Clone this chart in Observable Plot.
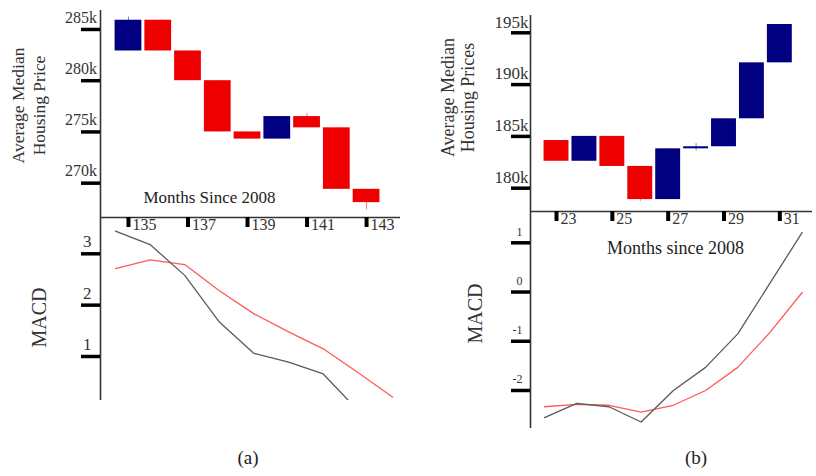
<!DOCTYPE html>
<html><head><meta charset="utf-8">
<script src="https://cdn.jsdelivr.net/npm/d3@7"></script>
<script src="https://cdn.jsdelivr.net/npm/@observablehq/plot@0.6"></script>
<style>
body{margin:0;background:#fff;}
#wrap{position:relative;width:816px;height:476px;overflow:hidden;background:#fff;}
.cap{position:absolute;top:447px;width:60px;text-align:center;font-family:"Liberation Serif",serif;font-size:19px;color:#222;}
</style></head><body><div id="wrap"></div>
<script>
// ---- Panel (a): candlesticks, months since 2008 ----
const monthsA = [135,136,137,138,139,140,141,142,143];
const openA   = [282.9,285.9,282.9,280.0,275.0,274.3,276.5,275.4,269.4];
const closeA  = [285.9,282.9,280.0,275.0,274.3,276.5,275.4,269.4,268.1];
const highA   = [286.2,285.9,282.9,280.0,275.0,276.5,276.8,275.4,269.4];
const lowA    = [282.9,282.9,280.0,275.0,274.3,274.3,275.4,269.4,267.4];
const yTicksA = [270,275,280,285];
const xTicksA = [135,137,139,141,143];
// MACD (a)
const macdA   = [3.44,3.18,2.58,1.67,1.06,0.89,0.66,-0.05];
const signalA = [2.71,2.88,2.79,2.28,1.83,1.48,1.15,0.69,0.21];
const macdTicksA = [1,2,3];

// ---- Panel (b) ----
const monthsB = [23,24,25,26,27,28,29,30,31];
const openB   = [184.6,182.6,185.0,182.1,178.9,183.8,184.0,186.7,192.1];
const closeB  = [182.6,185.0,182.1,178.9,183.8,184.0,186.7,192.1,195.8];
const highB   = [184.6,185.0,185.0,182.1,183.8,184.3,186.7,192.1,195.8];
const lowB    = [182.6,182.6,182.1,178.7,178.9,183.6,184.0,186.7,192.1];
const yTicksB = [180,185,190,195];
const xTicksB = [23,25,27,29,31];
const macdB   = [-2.55,-2.26,-2.33,-2.64,-2.0,-1.53,-0.85,0.18,1.21];
const signalB = [-2.33,-2.28,-2.30,-2.44,-2.30,-2.0,-1.53,-0.82,-0.01];
const macdTicksB = [-2,-1,0,1];

const UP = "#000080", DOWN = "#ee0000";
const AXIS = "#333", LINE1 = "#5a5a5a", LINE2 = "#ff5a5a";
const FONT = "Liberation Serif";

const wrap = document.getElementById("wrap");
function place(svg, left, top){
  svg.style.position = "absolute";
  svg.style.left = left + "px";
  svg.style.top = top + "px";
  wrap.appendChild(svg);
}
const baseStyle = {background:"transparent", fontFamily: FONT, color:"#222", overflow:"visible"};

function candles(months, open, close, high, low){
  return months.map((m,i)=>({m, open:open[i], close:close[i], high:high[i], low:low[i],
    c: close[i] >= open[i] ? UP : DOWN}));
}

function candlePlot(o){
  const data = candles(o.months, o.open, o.close, o.high, o.low);
  return Plot.plot({
    width:o.width, height:o.height,
    marginLeft:o.ml, marginRight:o.mr, marginTop:o.mt, marginBottom:o.mb,
    style:{...baseStyle},
    x:{domain:o.xd, axis:null},
    y:{domain:o.yd, axis:null},
    color:{type:"identity"},
    marks:[
      Plot.ruleX(data, {x:"m", y1:"low", y2:"high", stroke:"c", strokeWidth:1, strokeOpacity:0.5}),
      Plot.rect(data, {x1:d=>d.m-0.5, x2:d=>d.m+0.5, y1:"open", y2:"close", fill:"c", insetLeft:1.5, insetRight:1.5}),
      Plot.ruleX([o.xd[0]], {stroke:AXIS, strokeWidth:1.6}),
      Plot.ruleY([o.yd[0]], {stroke:AXIS, strokeWidth:1.6}),
      Plot.axisY({ticks:o.yTicks, tickSize:19, strokeWidth:3.5, stroke:"#000", fill:"none", tickFormat:()=>"", label:null}),
      Plot.text(o.yTicks, {y:d=>d, frameAnchor:"left", textAnchor:"end", lineAnchor:"middle", dx:o.ylDx, dy:o.ylDy, text:d=>d+"k", fontSize:o.ylFs, fontFamily:FONT, fill:"#333"}),
      Plot.axisX({ticks:o.xTicks, anchor:"bottom", tickSize:10, strokeWidth:4, stroke:"#000", fill:"none", tickFormat:()=>"", label:null}),
      Plot.text(o.xTicks, {x:d=>d, frameAnchor:"bottom", textAnchor:"start", lineAnchor:"top", dx:4, dy:1, text:d=>String(d), fontSize:16, fontFamily:FONT, fill:"#333"}),
      Plot.text([o.yTitle], {frameAnchor:"left", textAnchor:"middle", lineAnchor:"middle", rotate:-90, dx:o.ytDx, dy:o.ytDy, fontSize:o.ytFs, fontFamily:FONT, lineHeight:1.15, fill:"#333"}),
      ...(o.xTitle ? [Plot.text([o.xTitle], {frameAnchor:"bottom", textAnchor:"middle", lineAnchor:"middle", dx:o.xtDx, dy:o.xtDy, fontSize:17, fontFamily:FONT, fill:"#222"})] : [])
    ]
  });
}

function macdPlot(o){
  const m1 = o.months.slice(0, o.macd.length).map((m,i)=>({m, v:o.macd[i]}));
  const m2 = o.months.map((m,i)=>({m, v:o.signal[i]}));
  return Plot.plot({
    width:o.width, height:o.height,
    marginLeft:o.ml, marginRight:o.mr, marginTop:0, marginBottom:o.height - o.fh,
    style:{...baseStyle},
    x:{domain:o.xd, axis:null},
    y:{domain:o.yd, axis:null},
    marks:[
      Plot.line(m2, {x:"m", y:"v", stroke:LINE2, strokeWidth:1.3, clip:true}),
      Plot.line(m1, {x:"m", y:"v", stroke:LINE1, strokeWidth:1.3, clip:true}),
      Plot.ruleX([o.xd[0]], {stroke:AXIS, strokeWidth:1.6}),
      Plot.axisY({ticks:o.ticks, tickSize:19, strokeWidth:3.5, stroke:"#000", fill:"none", tickFormat:()=>"", label:null}),
      Plot.text(o.ticks, {y:d=>d, frameAnchor:"left", textAnchor:"end", lineAnchor:"middle", dx:o.tlDx, dy:o.tlDy, text:d=>String(d), fontSize:o.tlFs, fontFamily:FONT, fill:"#333"}),
      Plot.text(["MACD"], {frameAnchor:"left", textAnchor:"middle", lineAnchor:"middle", rotate:-90, dx:o.mDx, dy:o.mDy, fontSize:20, fontFamily:FONT, fill:"#333"}),
      ...(o.xTitle ? [Plot.text([o.xTitle], {frameAnchor:"top", textAnchor:"middle", lineAnchor:"middle", dx:o.xtDx, dy:o.xtDy, fontSize:18, fontFamily:FONT, fill:"#222"})] : [])
    ]
  });
}

// Panel (a) top
place(candlePlot({
  months:monthsA, open:openA, close:closeA, high:highA, low:lowA,
  width:410, height:237, ml:100, mr:10, mt:10, mb:20,
  xd:[134.06,144.14], yd:[266.65,286.85],
  yTicks:yTicksA, xTicks:xTicksA,
  ylDx:-3.5, ylDy:-12, ylFs:16,
  yTitle:"Average Median\nHousing Price", ytDx:-72.5, ytDy:-8.5, ytFs:17.5,
  xTitle:"Months Since 2008", xtDx:-41, xtDy:-20
}), 0, 0);

// Panel (a) MACD
place(macdPlot({
  months:monthsA, macd:macdA, signal:signalA,
  width:410, height:190, fh:183, ml:100, mr:10,
  xd:[134.567,143.231], yd:[0.143,3.707], ticks:macdTicksA,
  tlDx:-9, tlDy:-12, tlFs:17, mDx:-61, mDy:8.5
}), 0, 217);

// Panel (b) top
place(candlePlot({
  months:monthsB, open:openB, close:closeB, high:highB, low:lowB,
  width:406, height:231, ml:120, mr:4, mt:15, mb:20,
  xd:[22.068,32.17], yd:[177.75,196.67],
  yTicks:yTicksB, xTicks:xTicksB,
  ylDx:-2, ylDy:-10.6, ylFs:17,
  yTitle:"Average Median\nHousing Prices", ytDx:-73, ytDy:-16, ytFs:18
}), 410, 0);

// Panel (b) MACD
place(macdPlot({
  months:monthsB, macd:macdB, signal:signalB,
  width:406, height:222, fh:217, ml:120, mr:4,
  xd:[22.565,31.32], yd:[-2.772,1.636], ticks:macdTicksB,
  tlDx:-8, tlDy:-11, tlFs:12, mDx:-55, mDy:-6.5,
  xTitle:"Months since 2008", xtDx:4, xtDy:37
}), 410, 211);

// captions
const ca = document.createElement("div"); ca.className="cap"; ca.style.left="218px"; ca.textContent="(a)"; wrap.appendChild(ca);
const cb = document.createElement("div"); cb.className="cap"; cb.style.left="666px"; cb.textContent="(b)"; wrap.appendChild(cb);
</script>
</body></html>
